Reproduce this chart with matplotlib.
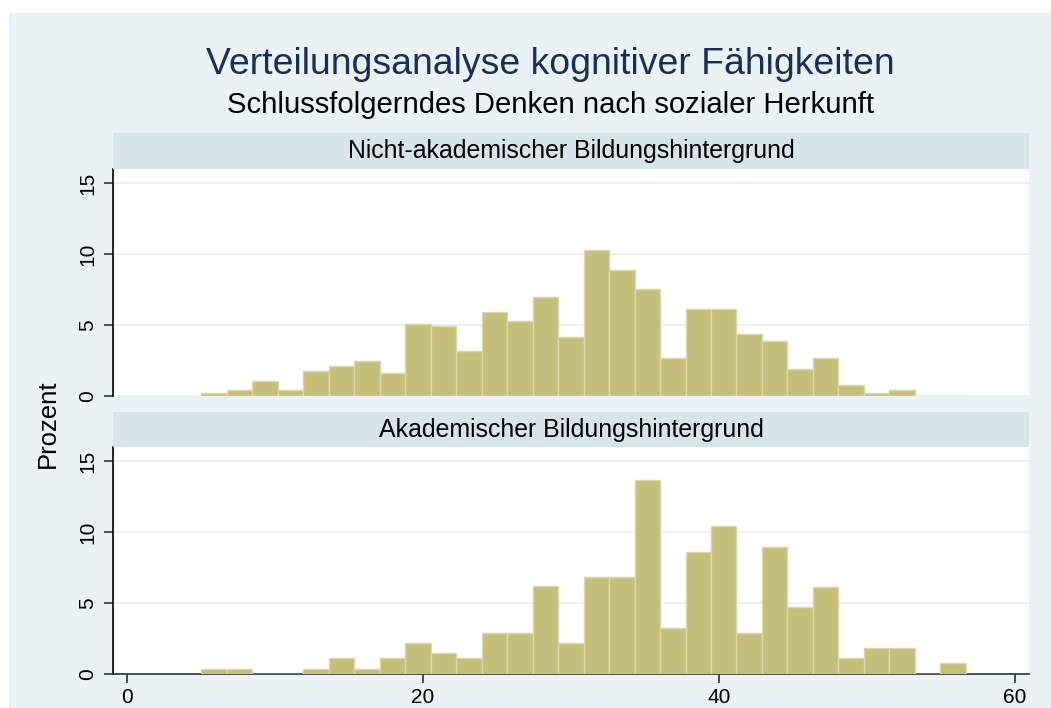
import matplotlib
matplotlib.use("Agg")
import matplotlib.pyplot as plt
from matplotlib.patches import Rectangle

plt.rcParams['font.family'] = ['Liberation Sans', 'DejaVu Sans']

# ---- data (percent per bin) ----
bin_start = 5.0
bin_width = 1.7233
panel_labels = ["Nicht-akademischer Bildungshintergrund", "Akademischer Bildungshintergrund"]
top_pct = [0.21, 0.40, 1.06, 0.40, 1.76, 2.09, 2.47, 1.62, 5.08, 4.92,
           3.13, 5.92, 5.25, 6.98, 4.16, 10.27, 8.89, 7.52, 2.64, 6.11,
           6.11, 4.37, 3.86, 1.90, 2.64, 0.73, 0.21, 0.40, 0.0, 0.0]
bottom_pct = [0.37, 0.37, 0.0, 0.0, 0.37, 1.10, 0.37, 1.10, 2.20, 1.50,
              1.10, 2.90, 2.90, 6.18, 2.20, 6.83, 6.83, 13.68, 3.26, 8.61,
              10.44, 2.91, 8.96, 4.72, 6.15, 1.10, 1.83, 1.83, 0.0, 0.75]
x_ticks = [0, 20, 40, 60]
y_ticks = [0, 5, 10, 15]
title = "Verteilungsanalyse kognitiver Fähigkeiten"
subtitle = "Schlussfolgerndes Denken nach sozialer Herkunft"
ylabel = "Prozent"

W, H = 1051, 708
fig = plt.figure(figsize=(W / 100, H / 100), dpi=100)
fig.patch.set_facecolor('white')

bg = '#EAF2F3'
strip_c = '#D7E5EA'
bar_c = '#C6BF7B'
bar_e = '#DCD7A6'

# outer graph region
fig.add_artist(Rectangle((9 / W, 0), 1 - 9 / W, 1 - 13 / H, transform=fig.transFigure,
                         facecolor=bg, edgecolor='none', zorder=-10))

def fx(px):
    return px / W

def fy(py):
    return 1 - py / H

left_px, right_px = 113, 1029
panels = [
    dict(top=168.8, bottom=395.7, strip_top=133.5, values=top_pct, label=panel_labels[0], xaxis=False),
    dict(top=446.8, bottom=674.0, strip_top=412.5, values=bottom_pct, label=panel_labels[1], xaxis=True),
]

edges = [bin_start + i * bin_width for i in range(len(top_pct))]

for p in panels:
    ax = fig.add_axes([fx(left_px), fy(p['bottom']), fx(right_px - left_px),
                       (p['bottom'] - p['top']) / H])
    ax.set_facecolor('white')
    ax.bar(edges, p['values'], width=bin_width, align='edge', color=bar_c,
           edgecolor=bar_e, linewidth=1.0, zorder=3)
    ax.set_xlim(-0.97, 60.97)
    ax.set_ylim(0, 16)
    ax.set_yticks(y_ticks)
    ax.set_yticklabels([str(t) for t in y_ticks], rotation=90, va='center', fontsize=15)
    ax.yaxis.grid(True, color=bg, linewidth=1.5, zorder=0)
    ax.set_axisbelow(True)
    for s in ['top', 'right']:
        ax.spines[s].set_visible(False)
    ax.spines['left'].set_color('black')
    ax.spines['left'].set_linewidth(1.2)
    ax.tick_params(axis='y', length=6.5, width=1.2, color='#333333', pad=5)
    if p['xaxis']:
        ax.spines['bottom'].set_color('#333333')
        ax.spines['bottom'].set_linewidth(1.2)
        ax.set_xticks(x_ticks)
        ax.set_xticklabels([str(t) for t in x_ticks], fontsize=15)
        ax.tick_params(axis='x', length=6.5, width=1.2, color='#333333', pad=3.5)
    else:
        ax.spines['bottom'].set_visible(False)
        ax.set_xticks([])
    # strip
    fig.add_artist(Rectangle((fx(left_px), fy(p['top'])), fx(right_px - left_px),
                             (p['top'] - p['strip_top']) / H, transform=fig.transFigure,
                             facecolor=strip_c, edgecolor='none', zorder=1))
    fig.text(fx((left_px + right_px) / 2), fy((p['top'] + p['strip_top']) / 2), p['label'],
             ha='center', va='center', fontsize=17.9, color='black')

fig.text(fx(550), fy(64), title, ha='center', va='center', fontsize=26.9, color='#1A2E5C')
fig.text(fx(551), fy(105), subtitle, ha='center', va='center', fontsize=21.1, color='black')
fig.text(fx(48), fy(424), ylabel, ha='center', va='center', rotation=90, fontsize=18.5, color='black')

fig.savefig('out.png', dpi=100, facecolor='white')
